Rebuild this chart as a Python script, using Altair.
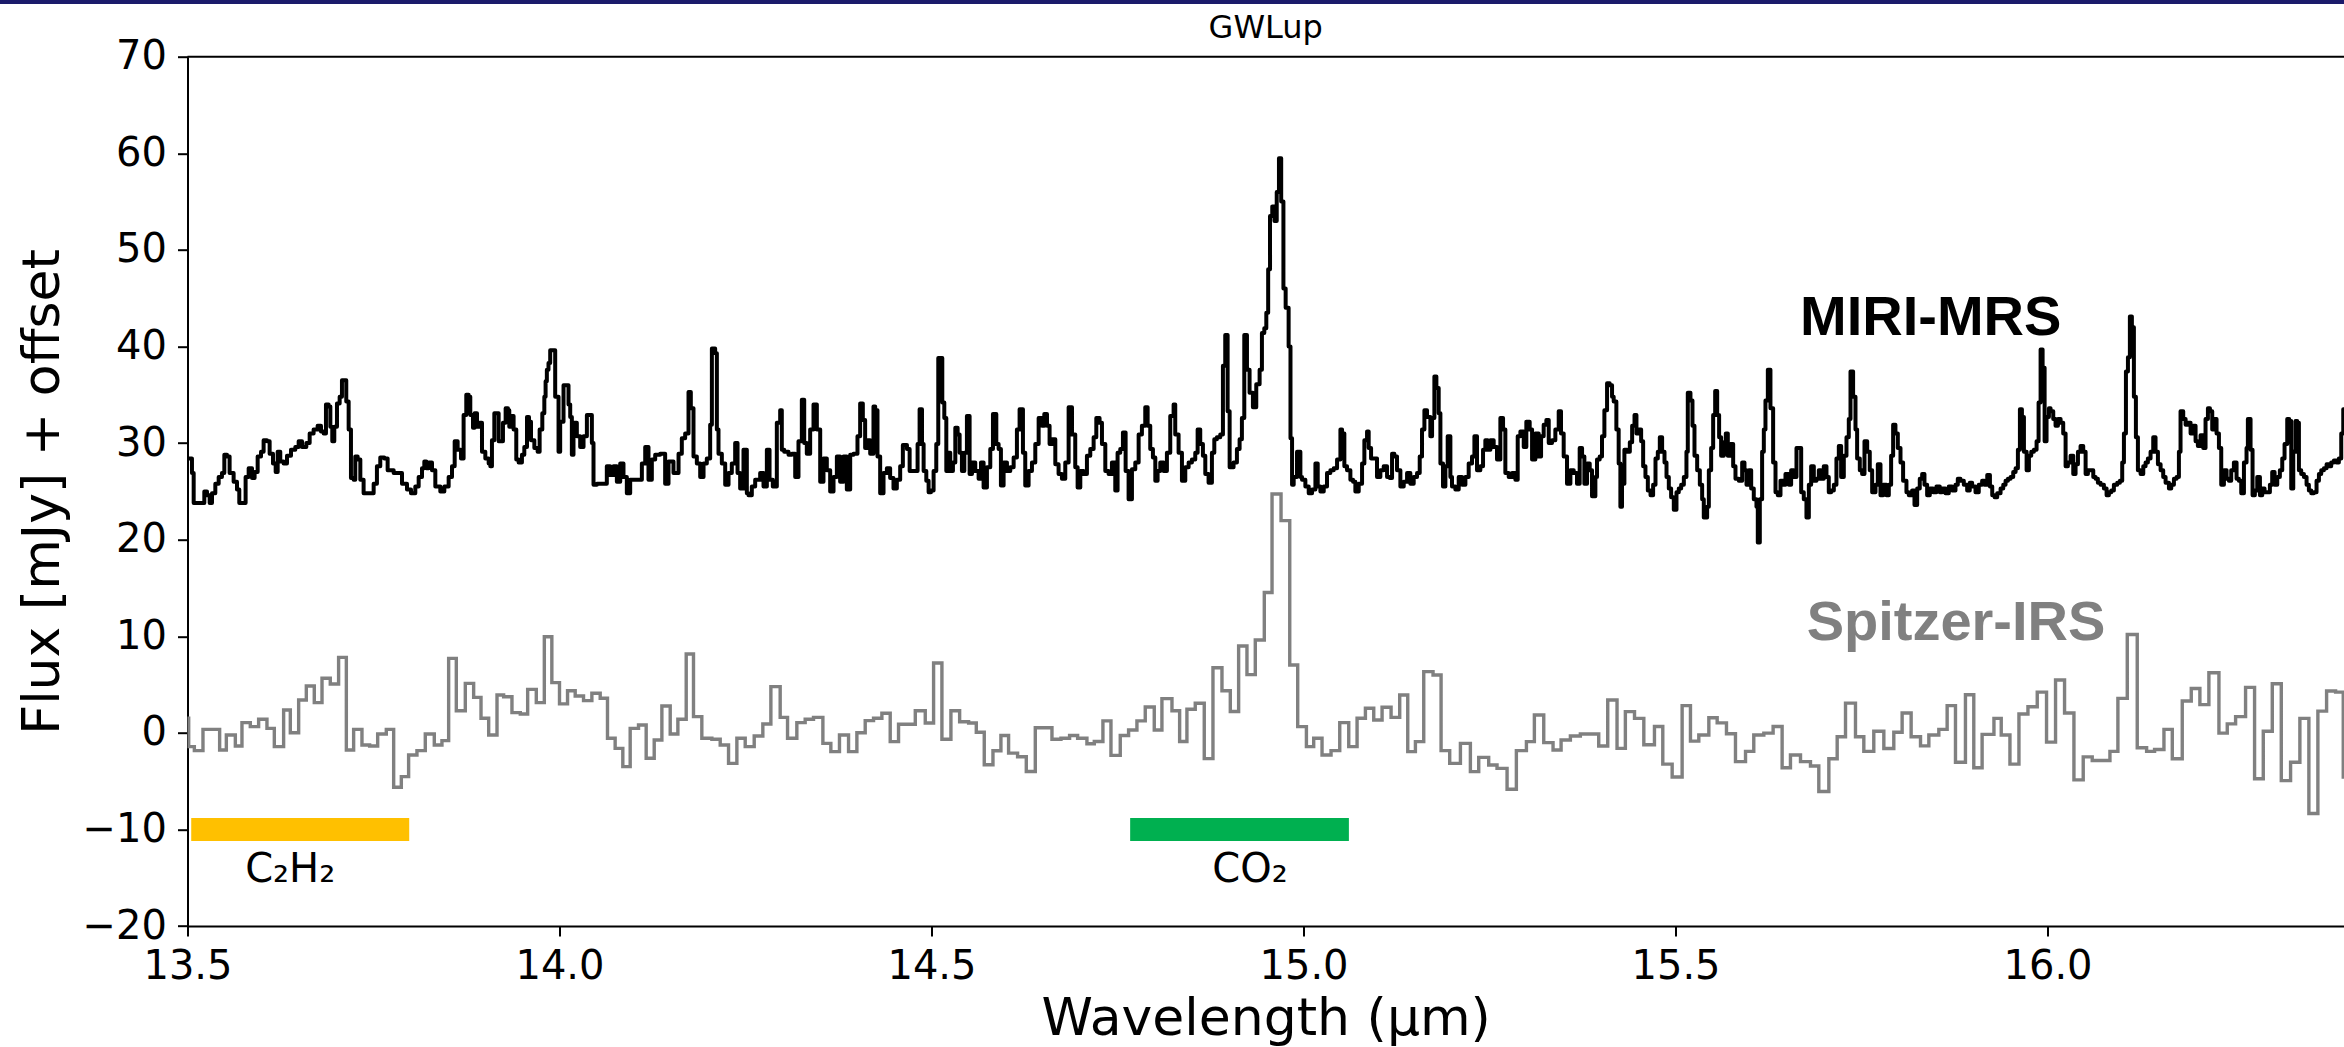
import altair as alt
import pandas as pd

# ---------------------------------------------------------------------------
# MIRI-MRS spectrum, (wavelength [um], flux [mJy] + offset).
# Drawn as a step-after line: each flux holds until the next wavelength.
# ---------------------------------------------------------------------------
miri_1350_1398 = [
    (13.5000, 28.4), (13.5060, 26.9), (13.5083, 23.8), (13.5226, 25.0), (13.5262, 24.6),
    (13.5298, 23.8), (13.5329, 24.8), (13.5374, 25.8), (13.5419, 26.5), (13.5463, 26.9),
    (13.5495, 28.8), (13.5531, 28.6), (13.5566, 26.9), (13.5620, 26.0), (13.5665, 25.2),
    (13.5696, 23.8), (13.5781, 26.5), (13.5822, 27.4), (13.5867, 26.4), (13.5902, 27.0),
    (13.5943, 28.6), (13.5988, 29.1), (13.6023, 30.3), (13.6068, 30.2), (13.6104, 28.9),
    (13.6149, 27.9), (13.6185, 27.0), (13.6212, 29.1), (13.6247, 28.1), (13.6292, 27.9),
    (13.6337, 28.7), (13.6391, 29.3), (13.6449, 29.6), (13.6494, 30.2), (13.6539, 29.6),
    (13.6597, 30.0), (13.6642, 31.0), (13.6695, 31.4), (13.6749, 31.8), (13.6794, 31.2),
    (13.6830, 31.0), (13.6861, 34.0), (13.6897, 33.8), (13.6920, 31.7), (13.6946, 30.2),
    (13.6973, 31.7), (13.7009, 34.1), (13.7045, 34.8), (13.7076, 36.5), (13.7108, 36.5),
    (13.7134, 34.3), (13.7166, 31.4), (13.7197, 26.4), (13.7233, 26.2), (13.7255, 28.6),
    (13.7287, 28.3), (13.7323, 26.2), (13.7367, 24.8), (13.7502, 25.8), (13.7546, 27.6),
    (13.7591, 28.5), (13.7645, 28.4), (13.7690, 27.2), (13.7771, 26.9), (13.7838, 26.9),
    (13.7883, 25.8), (13.7950, 25.2), (13.8004, 24.8), (13.8062, 25.5), (13.8107, 26.5),
    (13.8152, 27.4), (13.8183, 28.1), (13.8210, 27.4), (13.8241, 28.0), (13.8286, 27.2),
    (13.8331, 25.5), (13.8398, 25.0), (13.8452, 25.5), (13.8510, 26.5), (13.8555, 27.6),
    (13.8591, 30.2), (13.8631, 29.3), (13.8676, 28.4), (13.8711, 32.9), (13.8747, 35.0),
    (13.8779, 34.8), (13.8801, 32.9), (13.8837, 31.6), (13.8859, 33.1), (13.8891, 31.7),
    (13.8926, 32.1), (13.8958, 29.1), (13.9003, 28.4), (13.9048, 27.9), (13.9070, 27.6),
    (13.9092, 30.3), (13.9124, 33.1), (13.9182, 30.2), (13.9240, 32.1), (13.9276, 33.6),
    (13.9307, 33.4), (13.9325, 31.7), (13.9357, 32.8), (13.9383, 31.4), (13.9419, 28.3),
    (13.9451, 28.0), (13.9495, 28.8), (13.9527, 29.6), (13.9563, 32.7), (13.9590, 32.2),
    (13.9617, 30.3), (13.9662, 29.5), (13.9706, 29.1), (13.9733, 31.4), (13.9769, 33.1),
    (13.9796, 34.8), (13.9813, 36.4),
]

miri_1398_1446 = [
    (13.9830, 37.6), (13.9852, 38.3), (13.9875, 39.6), (13.9942, 34.8), (13.9987, 29.1),
    (14.0009, 32.2), (14.0054, 36.0), (14.0121, 34.0), (14.0144, 32.7), (14.0166, 28.8),
    (14.0188, 32.1), (14.0233, 30.7), (14.0278, 29.6), (14.0323, 30.7), (14.0368, 32.9),
    (14.0435, 30.0), (14.0457, 25.7), (14.0502, 25.8), (14.0636, 27.6), (14.0681, 26.7),
    (14.0726, 27.6), (14.0771, 26.0), (14.0816, 27.9), (14.0860, 26.5), (14.0905, 24.8),
    (14.0950, 26.2), (14.1107, 27.9), (14.1152, 29.6), (14.1196, 26.2), (14.1241, 28.3),
    (14.1286, 28.8), (14.1353, 28.9), (14.1420, 25.8), (14.1465, 28.1), (14.1532, 26.9),
    (14.1600, 28.9), (14.1644, 30.5), (14.1689, 31.0), (14.1734, 35.3), (14.1765, 33.6),
    (14.1801, 28.6), (14.1846, 27.9), (14.1891, 26.5), (14.1936, 27.9), (14.1980, 28.4),
    (14.2025, 31.9), (14.2048, 39.8), (14.2092, 39.3), (14.2115, 31.4), (14.2137, 28.9),
    (14.2182, 27.9), (14.2227, 25.7), (14.2272, 26.9), (14.2316, 27.9), (14.2361, 30.0),
    (14.2393, 26.9), (14.2428, 25.3), (14.2473, 29.3), (14.2518, 24.8), (14.2540, 24.6),
    (14.2585, 25.5), (14.2630, 26.2), (14.2697, 26.9), (14.2742, 25.5), (14.2787, 29.3),
    (14.2823, 26.2), (14.2867, 25.5), (14.2921, 32.1), (14.2966, 33.4), (14.2988, 29.3),
    (14.3020, 29.1), (14.3078, 28.8), (14.3123, 28.9), (14.3168, 26.5), (14.3212, 30.2),
    (14.3257, 34.5), (14.3289, 30.0), (14.3324, 28.9), (14.3369, 31.4), (14.3414, 34.0),
    (14.3459, 31.4), (14.3504, 26.0), (14.3548, 28.4), (14.3593, 27.2), (14.3638, 25.0),
    (14.3683, 26.5), (14.3728, 28.6), (14.3772, 26.0), (14.3817, 28.6), (14.3862, 25.2),
    (14.3907, 28.8), (14.3952, 28.9), (14.4005, 30.7), (14.4041, 34.1), (14.4077, 32.4),
    (14.4108, 29.5), (14.4140, 30.3), (14.4176, 28.9), (14.4220, 33.8), (14.4243, 33.4),
    (14.4274, 28.6), (14.4310, 24.8), (14.4355, 26.9), (14.4400, 27.4), (14.4444, 26.4),
    (14.4489, 25.3), (14.4534, 26.2), (14.4579, 27.6), (14.4615, 29.8),
]

miri_1446_1495 = [
    (14.4670, 29.4), (14.4706, 27.1), (14.4813, 29.9), (14.4840, 33.5), (14.4872, 29.9),
    (14.4894, 27.1), (14.4930, 26.1), (14.4961, 24.9), (14.4993, 25.1), (14.5028, 27.1),
    (14.5064, 29.9), (14.5091, 38.8), (14.5145, 34.2), (14.5172, 32.6), (14.5199, 27.1),
    (14.5230, 29.0), (14.5252, 27.1), (14.5288, 28.0), (14.5320, 31.6), (14.5351, 30.9),
    (14.5378, 29.0), (14.5409, 27.1), (14.5441, 29.0), (14.5476, 32.8), (14.5512, 26.8),
    (14.5544, 28.0), (14.5588, 27.1), (14.5633, 26.3), (14.5665, 28.0), (14.5700, 25.4),
    (14.5745, 27.5), (14.5790, 29.4), (14.5826, 33.0), (14.5871, 29.9), (14.5902, 29.4),
    (14.5933, 25.6), (14.5969, 28.0), (14.6014, 27.1), (14.6059, 27.5), (14.6104, 28.5),
    (14.6148, 31.4), (14.6184, 33.5), (14.6229, 29.0), (14.6260, 25.6), (14.6305, 27.1),
    (14.6350, 28.0), (14.6395, 29.9), (14.6440, 32.6), (14.6484, 31.8), (14.6516, 33.0),
    (14.6552, 31.8), (14.6587, 29.9), (14.6619, 30.4), (14.6664, 27.8), (14.6708, 26.8),
    (14.6753, 26.3), (14.6798, 28.0), (14.6843, 33.7), (14.6888, 30.9), (14.6932, 27.5),
    (14.6964, 25.4), (14.7000, 27.1), (14.7044, 26.8), (14.7089, 28.7), (14.7134, 29.4),
    (14.7179, 30.6), (14.7215, 32.6), (14.7259, 32.1), (14.7291, 29.9), (14.7336, 27.1),
    (14.7380, 26.8), (14.7425, 28.0), (14.7470, 25.1), (14.7501, 29.0), (14.7537, 29.4),
    (14.7573, 31.1), (14.7609, 27.1), (14.7649, 24.2), (14.7694, 27.3), (14.7739, 28.0),
    (14.7784, 30.9), (14.7828, 31.8), (14.7873, 33.7), (14.7905, 31.8), (14.7940, 29.4),
    (14.7976, 28.5), (14.8008, 26.1), (14.8039, 27.1), (14.8075, 28.0), (14.8120, 27.1),
    (14.8164, 29.0), (14.8209, 32.8), (14.8254, 34.0), (14.8276, 30.9), (14.8321, 29.0),
    (14.8366, 26.1), (14.8411, 27.5), (14.8456, 28.0), (14.8500, 28.3), (14.8545, 29.0),
    (14.8577, 31.4), (14.8612, 29.9), (14.8648, 28.7), (14.8680, 26.8), (14.8724, 25.9),
    (14.8769, 29.0), (14.8801, 30.4), (14.8836, 30.6), (14.8881, 30.9), (14.8917, 38.0),
    (14.8948, 41.2), (14.8980, 33.3), (14.9007, 27.5), (14.9060, 28.0), (14.9105, 29.4),
    (14.9141, 30.4), (14.9172, 32.6), (14.9204, 41.2), (14.9240, 37.6), (14.9275, 35.2),
    (14.9320, 33.7), (14.9365, 36.1), (14.9410, 37.6), (14.9441, 41.4), (14.9473, 41.9),
    (14.9500, 43.5), (14.9525, 48.0), (14.9550, 53.5), (14.9580, 54.5), (14.9610, 53.0),
    (14.9640, 56.0), (14.9670, 59.5), (14.9700, 55.0), (14.9730, 46.0), (14.9760, 44.0),
    (14.9800, 40.0), (14.9825, 30.5),
]

miri_1498_1543 = [
    (14.9846, 25.7), (14.9868, 26.5), (14.9913, 29.1), (14.9958, 26.5), (14.9980, 26.2),
    (15.0025, 25.5), (15.0070, 24.8), (15.0115, 25.2), (15.0160, 27.9), (15.0191, 25.5),
    (15.0227, 25.0), (15.0272, 25.5), (15.0316, 26.9), (15.0361, 27.2), (15.0406, 27.4),
    (15.0451, 28.3), (15.0496, 31.4), (15.0518, 31.0), (15.0549, 27.6), (15.0585, 27.2),
    (15.0630, 26.2), (15.0666, 26.0), (15.0697, 25.0), (15.0742, 25.8), (15.0787, 27.9),
    (15.0818, 30.3), (15.0854, 31.2), (15.0876, 29.5), (15.0908, 28.4), (15.0988, 26.5),
    (15.1033, 27.2), (15.1078, 27.6), (15.1123, 26.5), (15.1159, 26.4), (15.1190, 28.9),
    (15.1221, 28.6), (15.1257, 27.2), (15.1302, 25.5), (15.1347, 26.0), (15.1392, 26.9),
    (15.1436, 25.8), (15.1481, 26.5), (15.1526, 26.9), (15.1562, 28.6), (15.1593, 31.4),
    (15.1625, 33.4), (15.1660, 32.7), (15.1705, 30.7), (15.1728, 32.6), (15.1759, 36.9),
    (15.1786, 35.7), (15.1817, 33.1), (15.1840, 27.9), (15.1875, 25.5), (15.1907, 27.6),
    (15.1938, 30.7), (15.1974, 26.5), (15.1996, 25.5), (15.2041, 25.2), (15.2086, 26.5),
    (15.2131, 25.7), (15.2176, 26.5), (15.2220, 27.9), (15.2265, 28.6), (15.2297, 30.7),
    (15.2332, 27.2), (15.2377, 27.6), (15.2413, 29.3), (15.2444, 30.3), (15.2476, 29.3),
    (15.2512, 30.3), (15.2556, 29.6), (15.2601, 28.3), (15.2646, 32.6), (15.2682, 31.4),
    (15.2713, 26.9), (15.2758, 26.5), (15.2803, 26.9), (15.2848, 26.2), (15.2879, 30.7),
    (15.2915, 31.2), (15.2960, 29.6), (15.2995, 32.2), (15.3040, 31.4), (15.3072, 28.3),
    (15.3116, 31.0), (15.3161, 28.6), (15.3193, 30.7), (15.3228, 31.9), (15.3264, 32.4),
    (15.3296, 30.0), (15.3340, 30.3), (15.3385, 31.4), (15.3430, 33.3), (15.3461, 31.0),
    (15.3497, 28.6), (15.3542, 25.8), (15.3587, 27.2), (15.3632, 26.9), (15.3676, 25.8),
    (15.3712, 29.5), (15.3744, 28.6), (15.3775, 25.8), (15.3811, 27.9), (15.3847, 27.2),
    (15.3878, 24.5), (15.3923, 26.5), (15.3945, 28.3), (15.3981, 28.6), (15.4012, 30.7),
    (15.4044, 33.4), (15.4080, 36.2), (15.4115, 36.0), (15.4147, 34.8), (15.4169, 34.3),
    (15.4205, 31.4), (15.4236, 27.9), (15.4259, 23.4), (15.4281, 25.8), (15.4313, 29.3),
]

miri_1543_1592 = [
    (15.4350, 29.1), (15.4386, 30.1), (15.4417, 31.8), (15.4449, 32.9), (15.4475, 31.0),
    (15.4507, 31.4), (15.4538, 30.2), (15.4565, 27.6), (15.4596, 26.5), (15.4628, 25.1),
    (15.4664, 24.6), (15.4699, 25.7), (15.4731, 28.4), (15.4762, 29.1), (15.4789, 30.6),
    (15.4820, 29.1), (15.4852, 28.0), (15.4879, 26.5), (15.4910, 25.3), (15.4941, 24.4),
    (15.4977, 23.1), (15.5013, 24.9), (15.5044, 25.3), (15.5076, 25.7), (15.5112, 26.5),
    (15.5147, 29.1), (15.5165, 35.2), (15.5201, 34.4), (15.5228, 31.8), (15.5255, 28.7),
    (15.5291, 27.2), (15.5327, 25.7), (15.5358, 24.2), (15.5380, 22.3), (15.5425, 23.4),
    (15.5448, 27.2), (15.5479, 29.5), (15.5506, 32.9), (15.5533, 35.4), (15.5560, 32.9),
    (15.5586, 30.6), (15.5613, 28.7), (15.5649, 30.1), (15.5676, 31.0), (15.5703, 28.7),
    (15.5739, 29.9), (15.5775, 27.6), (15.5806, 26.3), (15.5851, 26.1), (15.5896, 28.0),
    (15.5927, 27.2), (15.5954, 25.7), (15.5985, 27.2), (15.6017, 25.3), (15.6052, 24.2),
    (15.6088, 23.4), (15.6106, 19.7), (15.6133, 24.2), (15.6164, 29.1), (15.6187, 31.4),
    (15.6209, 34.4), (15.6241, 37.6), (15.6276, 33.6), (15.6312, 28.0), (15.6344, 24.9),
    (15.6375, 24.6), (15.6411, 26.1), (15.6447, 25.7), (15.6478, 26.8), (15.6523, 25.7),
    (15.6554, 27.2), (15.6590, 26.5), (15.6626, 29.5), (15.6689, 24.9), (15.6724, 24.2),
    (15.6760, 22.3), (15.6792, 25.7), (15.6823, 27.6), (15.6859, 26.1), (15.6895, 26.3),
    (15.6926, 27.2), (15.6957, 26.3), (15.6993, 27.6), (15.7029, 26.5), (15.7060, 24.9),
    (15.7092, 25.1), (15.7128, 25.7), (15.7163, 28.4), (15.7195, 29.7), (15.7226, 26.5),
    (15.7262, 28.7), (15.7298, 30.6), (15.7329, 32.5), (15.7352, 37.4), (15.7387, 34.8),
    (15.7419, 31.4), (15.7441, 28.4), (15.7477, 27.2), (15.7508, 26.8), (15.7540, 30.2),
    (15.7576, 29.1), (15.7611, 27.2), (15.7643, 24.9), (15.7688, 25.7), (15.7719, 27.8),
    (15.7755, 24.6), (15.7791, 25.7), (15.7835, 24.6), (15.7867, 25.7), (15.7898, 28.7),
    (15.7925, 31.9), (15.7956, 31.0), (15.7988, 29.5), (15.8024, 28.0), (15.8059, 26.1),
    (15.8104, 24.9), (15.8136, 24.6), (15.8180, 25.1), (15.8212, 23.6), (15.8248, 25.3),
    (15.8283, 26.3), (15.8315, 26.8), (15.8346, 25.7), (15.8382, 24.6), (15.8418, 25.3),
    (15.8463, 24.9), (15.8507, 25.5), (15.8552, 24.9), (15.8584, 25.3), (15.8628, 24.8),
    (15.8673, 25.5), (15.8718, 25.1), (15.8763, 25.7), (15.8794, 26.3), (15.8830, 26.1),
    (15.8875, 25.7), (15.8920, 25.1), (15.8955, 25.9), (15.8987, 25.5), (15.9032, 24.9),
    (15.9076, 25.7), (15.9121, 26.1), (15.9153, 25.7),
]

miri_1592_1640 = [
    (15.9190, 26.7), (15.9226, 25.5), (15.9257, 24.6), (15.9289, 24.4), (15.9324, 24.8),
    (15.9369, 25.3), (15.9405, 25.7), (15.9436, 26.1), (15.9468, 26.3), (15.9504, 26.5),
    (15.9539, 27.0), (15.9571, 27.4), (15.9602, 29.3), (15.9629, 33.5), (15.9656, 32.7),
    (15.9683, 29.1), (15.9719, 27.2), (15.9750, 28.7), (15.9781, 29.1), (15.9817, 29.3),
    (15.9853, 30.2), (15.9880, 34.2), (15.9907, 39.7), (15.9934, 37.8), (15.9961, 30.2),
    (15.9987, 32.7), (16.0019, 33.6), (16.0041, 33.3), (16.0077, 32.5), (16.0108, 31.8),
    (16.0140, 32.5), (16.0176, 32.1), (16.0211, 31.0), (16.0243, 27.6), (16.0274, 28.0),
    (16.0310, 28.7), (16.0346, 26.8), (16.0377, 27.8), (16.0409, 29.1), (16.0444, 29.7),
    (16.0480, 29.1), (16.0512, 26.8), (16.0543, 27.2), (16.0615, 26.5), (16.0646, 26.3),
    (16.0677, 25.9), (16.0713, 25.7), (16.0758, 25.3), (16.0794, 24.6), (16.0825, 24.9),
    (16.0857, 25.1), (16.0892, 25.7), (16.0937, 25.9), (16.0973, 26.1), (16.1004, 28.0),
    (16.1027, 31.0), (16.1054, 37.4), (16.1081, 38.9), (16.1107, 43.1), (16.1134, 42.0),
    (16.1161, 34.8), (16.1188, 30.6), (16.1215, 27.2), (16.1251, 26.8), (16.1287, 27.6),
    (16.1318, 28.0), (16.1349, 28.4), (16.1385, 29.1), (16.1421, 30.6), (16.1452, 29.1),
    (16.1484, 27.8), (16.1520, 27.2), (16.1555, 26.5), (16.1587, 25.9), (16.1632, 25.3),
    (16.1663, 25.7), (16.1699, 26.3), (16.1735, 26.5), (16.1766, 29.1), (16.1788, 33.3),
    (16.1824, 32.5), (16.1856, 31.9), (16.1887, 32.1), (16.1923, 31.0), (16.1959, 31.8),
    (16.1990, 30.2), (16.2021, 29.7), (16.2057, 30.8), (16.2093, 29.5), (16.2124, 32.5),
    (16.2156, 33.6), (16.2183, 33.3), (16.2214, 31.4), (16.2236, 32.5), (16.2272, 31.0),
    (16.2304, 29.5), (16.2335, 25.7), (16.2371, 27.2), (16.2407, 26.3), (16.2438, 26.1),
    (16.2469, 27.2), (16.2505, 28.0), (16.2541, 26.3), (16.2572, 26.1), (16.2604, 24.8),
    (16.2640, 28.0), (16.2675, 29.5), (16.2693, 32.5), (16.2729, 29.3), (16.2756, 24.6),
    (16.2787, 25.1), (16.2819, 26.5), (16.2855, 24.6), (16.2886, 25.3), (16.2917, 24.9),
    (16.2989, 25.7), (16.3020, 27.0), (16.3052, 25.7), (16.3088, 26.5), (16.3123, 27.2),
    (16.3155, 28.4), (16.3186, 29.9), (16.3222, 32.5), (16.3249, 32.3), (16.3276, 25.3),
    (16.3303, 29.1), (16.3334, 32.3), (16.3356, 32.1), (16.3379, 27.2), (16.3410, 26.8),
    (16.3446, 26.5), (16.3482, 25.7), (16.3513, 25.1), (16.3545, 24.8), (16.3580, 24.9),
    (16.3616, 26.1), (16.3648, 26.8), (16.3679, 27.2), (16.3715, 27.4), (16.3751, 27.8),
    (16.3782, 27.6), (16.3813, 28.0), (16.3849, 28.2), (16.3885, 28.0), (16.3916, 28.4),
    (16.3948, 31.0), (16.3975, 33.5), (16.4100, 33.5),
]

# ---------------------------------------------------------------------------
# Spitzer-IRS spectrum: bin start wavelength [um], flux [mJy] (step-after).
# ---------------------------------------------------------------------------
spitzer_1349_1446 = [
    (13.4900, 1.51), (13.5016, -1.42), (13.5092, -1.84), (13.5208, 0.37), (13.5432, -1.77),
    (13.5522, -0.22), (13.5643, -1.35), (13.5732, 1.06), (13.5844, 0.65), (13.5956, 1.41),
    (13.6068, 0.47), (13.6167, -1.42), (13.6292, 2.37), (13.6382, 0.02), (13.6494, 3.41),
    (13.6597, 4.86), (13.6704, 3.13), (13.6808, 5.65), (13.6919, 5.06), (13.7031, 7.82),
    (13.7135, -1.77), (13.7233, 0.37), (13.7345, -1.25), (13.7448, -1.35), (13.7556, -0.11),
    (13.7672, 0.37), (13.7771, -5.63), (13.7874, -4.53), (13.7972, -2.29), (13.8084, -1.84),
    (13.8196, -0.11), (13.8317, -1.25), (13.8420, -0.80), (13.8510, 7.72), (13.8613, 2.30),
    (13.8734, 5.13), (13.8846, 3.68), (13.8945, 1.51), (13.9048, -0.22), (13.9160, 3.92),
    (13.9249, 3.75), (13.9361, 2.10), (13.9473, 1.96), (13.9572, 4.51), (13.9688, 3.13),
    (13.9796, 9.96), (13.9897, 5.20), (14.0000, 3.00), (14.0108, 4.37), (14.0211, 3.82),
    (14.0323, 3.34), (14.0435, 4.10), (14.0547, 3.58), (14.0645, -0.56), (14.0748, -1.60),
    (14.0851, -3.49), (14.0950, 0.47), (14.1062, 0.82), (14.1165, -2.63), (14.1273, -0.73),
    (14.1376, 2.79), (14.1488, -0.11), (14.1591, 1.41), (14.1703, 8.17), (14.1801, 1.68),
    (14.1913, -0.56), (14.2048, -0.66), (14.2160, -1.25), (14.2272, -3.15), (14.2384, -0.56),
    (14.2496, -1.42), (14.2617, -0.32), (14.2733, 0.92), (14.2841, 4.79), (14.2966, 1.61),
    (14.3065, -0.56), (14.3190, 1.06), (14.3302, 1.41), (14.3414, 1.61), (14.3540, -1.08),
    (14.3647, -1.94), (14.3763, -0.22), (14.3885, -1.94), (14.3997, 0.02), (14.4109, 1.27),
    (14.4221, 1.51), (14.4333, 2.03), (14.4445, -0.90),
]

spitzer_1446_1543 = [
    (14.4557, 0.90), (14.4782, 2.30), (14.4916, 1.02), (14.5028, 7.23), (14.5140, -0.66),
    (14.5261, 2.30), (14.5378, 1.16), (14.5499, 1.02), (14.5602, 0.06), (14.5709, -3.29),
    (14.5826, -1.85), (14.5933, -0.27), (14.6036, -2.09), (14.6157, -2.47), (14.6274, -4.00),
    (14.6395, 0.54), (14.6619, -0.66), (14.6740, -0.56), (14.6856, -0.27), (14.6964, -0.56),
    (14.7089, -1.13), (14.7188, -0.89), (14.7304, 1.25), (14.7412, -2.33), (14.7537, -0.27),
    (14.7649, 0.30), (14.7761, 1.25), (14.7873, 2.68), (14.7994, 0.30), (14.8097, 3.55),
    (14.8232, 2.30), (14.8335, -0.89), (14.8433, 2.45), (14.8545, 3.07), (14.8666, -2.66),
    (14.8783, 6.75), (14.8904, 4.36), (14.9016, 2.21), (14.9128, 9.00), (14.9240, 6.03),
    (14.9352, 9.62), (14.9473, 14.54), (14.9577, 24.73), (14.9698, 21.97), (14.9815, 7.03),
    (14.9922, 0.65), (15.0039, -1.42), (15.0137, -0.56), (15.0249, -2.29), (15.0370, -1.84),
    (15.0487, 1.06), (15.0608, -1.42), (15.0720, 1.51), (15.0832, 2.55), (15.0944, 1.34),
    (15.1056, 2.65), (15.1177, 1.61), (15.1293, 3.92), (15.1401, -1.94), (15.1504, -0.90),
    (15.1616, 6.34), (15.1741, 6.00), (15.1849, -1.84), (15.1965, -3.15), (15.2109, -1.08),
    (15.2243, -4.01), (15.2355, -2.53), (15.2489, -3.32), (15.2601, -3.67), (15.2736, -5.84),
    (15.2861, -1.84), (15.2996, -0.90), (15.3103, 1.86), (15.3229, -1.01), (15.3354, -1.77),
    (15.3462, -0.73), (15.3587, -0.32), (15.3721, -0.11), (15.3968, -1.35), (15.4089, 3.41),
    (15.4214, -1.60),
]

spitzer_1543_1641 = [
    (15.4326, 2.20), (15.4449, 1.50), (15.4574, -1.23), (15.4717, 0.66), (15.4829, -3.23),
    (15.4955, -4.56), (15.5089, 2.82), (15.5201, -0.85), (15.5313, -0.21), (15.5448, 1.57),
    (15.5560, 1.04), (15.5685, -0.09), (15.5806, -2.97), (15.5941, -1.91), (15.6052, -0.21),
    (15.6187, -0.02), (15.6312, 0.66), (15.6433, -3.61), (15.6545, -2.29), (15.6680, -2.97),
    (15.6814, -3.42), (15.6926, -6.07), (15.7061, -2.67), (15.7173, -0.40), (15.7285, 3.08),
    (15.7419, -0.40), (15.7531, -1.91), (15.7665, 0.17), (15.7800, -1.61), (15.7934, 0.06),
    (15.8046, 2.06), (15.8167, -0.40), (15.8293, -1.34), (15.8405, -0.21), (15.8539, 0.36),
    (15.8651, 2.82), (15.8763, -3.04), (15.8897, 3.95), (15.9009, -3.61), (15.9121, -0.15),
    (15.9280, 1.50), (15.9378, -0.21), (15.9495, -3.23), (15.9616, 1.95), (15.9737, 2.70),
    (15.9862, 4.22), (15.9987, -0.96), (16.0108, 5.47), (16.0229, 2.06), (16.0355, -4.86),
    (16.0480, -2.48), (16.0601, -2.85), (16.0839, -1.91), (16.0946, 3.57), (16.1072, 10.19),
    (16.1206, -1.53), (16.1332, -1.91), (16.1439, -1.72), (16.1565, 0.36), (16.1677, -2.67),
    (16.1811, 3.31), (16.1932, 4.60), (16.2048, 2.93), (16.2169, 6.22), (16.2304, -0.02),
    (16.2416, 0.93), (16.2528, 1.68), (16.2662, 4.71), (16.2783, -4.75), (16.2900, 0.17),
    (16.3021, 5.09), (16.3142, -4.94), (16.3267, -3.04), (16.3392, 1.50), (16.3513, -8.34),
    (16.3634, 2.25), (16.3751, 4.33), (16.3872, 4.22), (16.3975, -4.56), (16.4100, -4.56),
]

# Molecular band markers
species = ["C₂H₂", "CO₂"]
species_start = [13.505, 14.767]
species_end = [13.798, 15.061]
species_level = [-10, -10]
species_label_wavelength = [13.638, 14.928]
species_label_flux = [-15.4, -15.4]

# Instrument labels
instruments = ["MIRI-MRS", "Spitzer-IRS"]
instrument_wavelength = [15.843, 15.877]
instrument_flux = [41.2, 9.6]

target_name = "GWLup"

x_ticks = [13.5, 14.0, 14.5, 15.0, 15.5, 16.0]
y_ticks = [-20, -10, 0, 10, 20, 30, 40, 50, 60, 70]

# ---------------------------------------------------------------------------
miri = pd.DataFrame(
    miri_1350_1398 + miri_1398_1446 + miri_1446_1495
    + miri_1498_1543 + miri_1543_1592 + miri_1592_1640,
    columns=["wavelength", "flux"],
)
spitzer = pd.DataFrame(
    spitzer_1349_1446 + spitzer_1446_1543 + spitzer_1543_1641,
    columns=["wavelength", "flux"],
)
bands = pd.DataFrame({
    "species": species,
    "start": species_start,
    "end": species_end,
    "level": species_level,
    "label_wavelength": species_label_wavelength,
    "label_flux": species_label_flux,
})
labels = pd.DataFrame({
    "instrument": instruments,
    "wavelength": instrument_wavelength,
    "flux": instrument_flux,
})
header = pd.DataFrame({"name": [target_name]})

PLOT_W = 2156.5
PLOT_H = 869.4
FONT = "DejaVu Sans"

x_scale = alt.Scale(domain=[13.5, 16.3985], nice=False, zero=False)
y_scale = alt.Scale(domain=[-20, 70], nice=False, zero=False)

x_axis = alt.Axis(
    values=x_ticks, format=".1f", title="Wavelength (μm)", grid=False,
    labelFont=FONT, labelFontSize=40, labelColor="black", labelPadding=10,
    labelFlush=False, labelOverlap=False,
    tickSize=10, tickWidth=2, tickColor="black",
    domainColor="black", domainWidth=2,
    titleFont=FONT, titleFontSize=52, titleFontWeight="normal", titleColor="black",
    titleX=PLOT_W / 2, titleY=108, titleAlign="center", titleBaseline="alphabetic",
)
y_axis = alt.Axis(
    values=y_ticks, format="d", title="Flux [mJy] + offset", grid=False,
    labelFont=FONT, labelFontSize=40, labelColor="black", labelPadding=11,
    labelFlush=False, labelOverlap=False,
    tickSize=10, tickWidth=2, tickColor="black",
    domainColor="black", domainWidth=2,
    titleFont=FONT, titleFontSize=52, titleFontWeight="normal", titleColor="black",
    titleX=-129, titleY=PLOT_H / 2, titleAngle=270, titleAlign="center",
    titleBaseline="alphabetic",
)


def xq(field):
    return alt.X(field, type="quantitative", scale=x_scale, axis=x_axis)


def yq(field):
    return alt.Y(field, type="quantitative", scale=y_scale, axis=y_axis)


# dark banner along the top edge of the figure
banner = alt.Chart(header).mark_rect(color="#1b1b6b").encode(
    x=alt.value(-187.5), x2=alt.value(PLOT_W), y=alt.value(-56.7), y2=alt.value(-52.7)
)

# top frame line of the axes box
top_frame = alt.Chart(header).mark_rule(color="black", strokeWidth=2).encode(
    x=alt.value(0), x2=alt.value(PLOT_W), y=alt.value(0)
)

title = alt.Chart(header).mark_text(
    font=FONT, fontSize=32, color="black", align="center", baseline="alphabetic"
).encode(x=alt.value(PLOT_W / 2), y=alt.value(-19), text="name:N")

spitzer_line = alt.Chart(spitzer).mark_line(
    interpolate="step-after", color="#808080", strokeWidth=3.4, clip=True,
    strokeJoin="miter",
).encode(x=xq("wavelength"), y=yq("flux"))

miri_line = alt.Chart(miri).mark_line(
    interpolate="step-after", color="black", strokeWidth=4, clip=True,
    strokeJoin="round",
).encode(x=xq("wavelength"), y=yq("flux"))

band_bars = alt.Chart(bands).mark_rule(strokeWidth=23, strokeCap="butt").encode(
    x=xq("start"), x2="end", y=yq("level"),
    color=alt.Color("species:N", scale=alt.Scale(domain=species, range=["#FFC000", "#00B050"]),
                    legend=None),
)

band_text = alt.Chart(bands).mark_text(
    font=FONT, fontSize=40, color="black", align="center", baseline="alphabetic"
).encode(x=xq("label_wavelength"), y=yq("label_flux"), text="species:N")

instrument_text = alt.Chart(labels).mark_text(
    font="Liberation Sans", fontSize=56, fontWeight="bold", align="center",
    baseline="alphabetic",
).encode(
    x=xq("wavelength"), y=yq("flux"), text="instrument:N",
    color=alt.Color("instrument:N",
                    scale=alt.Scale(domain=instruments, range=["black", "#808080"]),
                    legend=None),
)

chart = alt.layer(
    banner, top_frame, title, spitzer_line, miri_line, band_bars, band_text, instrument_text
).resolve_scale(color="independent").properties(
    width=PLOT_W,
    height=PLOT_H,
    padding={"left": 187.5, "top": 56.7, "right": 0, "bottom": 1047 - 56.7 - PLOT_H},
    autosize=alt.AutoSizeParams(type="none"),
    background="white",
).configure_view(stroke=None)

chart.save("out.html", embed_options={"renderer": "svg", "actions": False})
